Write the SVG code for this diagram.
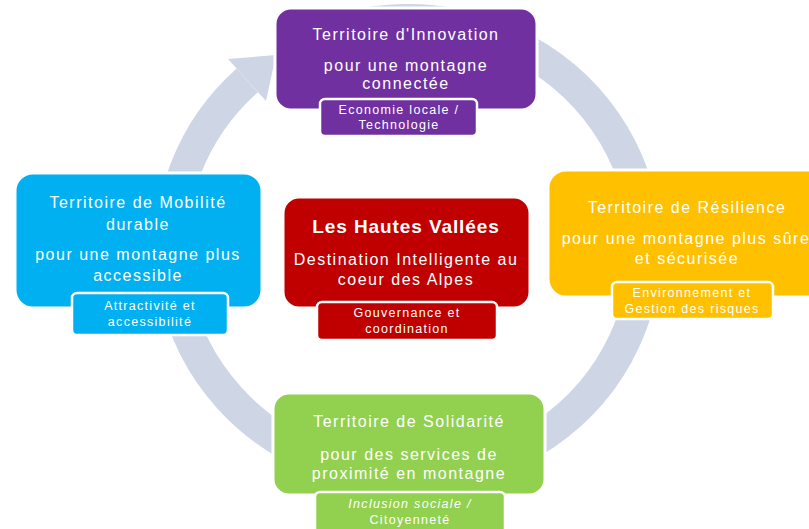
<svg xmlns="http://www.w3.org/2000/svg" width="809" height="529" viewBox="0 0 809 529">
<style>
.box{stroke:#fff;stroke-width:3}
.lbl{stroke:#fff;stroke-width:2.5}
.t{font-family:"Liberation Sans",Arial,sans-serif;font-size:16px;letter-spacing:1.5px;fill:#fff;text-anchor:middle}
.s{font-family:"Liberation Sans",Arial,sans-serif;font-size:12.5px;letter-spacing:1.3px;fill:#fff;text-anchor:middle}
.b{font-family:"Liberation Sans",Arial,sans-serif;font-size:19px;letter-spacing:0.9px;font-weight:bold;fill:#fff;text-anchor:middle}
.purple{fill:#7030A0}.cyan{fill:#00B0F0}.yellow{fill:#FFC000}.green{fill:#92D050}.red{fill:#C00000}
</style>
<rect width="809" height="529" fill="#fff"/>
<g id="connectors">
<path d="M296.7,46.7 A237,228 0 1 1 247.3,80.4" fill="none" stroke="#CED6E6" stroke-width="32"/>
<polygon points="228,59 266,101 276,55" fill="#CED6E6"/>
</g>
<g id="node-innovation">
<rect class="box purple" x="275" y="8" width="262" height="102" rx="16"/>
<text class="t" x="406" y="40">Territoire d'Innovation</text>
<text class="t" x="406" y="71">pour une montagne</text>
<text class="t" x="406" y="89">connectée</text>
<rect class="lbl purple" x="320" y="99" width="157" height="37" rx="5"/>
<text class="s" x="399" y="114">Economie locale /</text>
<text class="s" x="399" y="129">Technologie</text>
</g>
<g id="node-mobilite">
<rect class="box cyan" x="15" y="173" width="247" height="135" rx="18"/>
<text class="t" x="138" y="208">Territoire de Mobilité</text>
<text class="t" x="138" y="230">durable</text>
<text class="t" x="138" y="260">pour une montagne plus</text>
<text class="t" x="138" y="281">accessible</text>
<rect class="lbl cyan" x="72" y="293" width="156" height="42" rx="5"/>
<text class="s" x="150" y="310">Attractivité et</text>
<text class="s" x="150" y="326">accessibilité</text>
</g>
<g id="node-resilience">
<rect class="box yellow" x="548" y="170" width="285" height="127" rx="18"/>
<text class="t" x="687" y="213">Territoire de Résilience</text>
<text class="t" x="686" y="244" letter-spacing="1.2">pour une montagne plus sûre</text>
<text class="t" x="687" y="264">et sécurisée</text>
<rect class="lbl yellow" x="612" y="282" width="161" height="37" rx="5"/>
<text class="s" x="692" y="297">Environnement et</text>
<text class="s" x="692" y="313" letter-spacing="1.1">Gestion des risques</text>
</g>
<g id="node-solidarite">
<rect class="box green" x="273" y="393" width="272" height="102" rx="16"/>
<text class="t" x="409" y="427">Territoire de Solidarité</text>
<text class="t" x="409" y="460">pour des services de</text>
<text class="t" x="409" y="479">proximité en montagne</text>
<rect class="lbl green" x="315" y="492" width="190" height="45" rx="5"/>
<text class="s" x="410" y="508" font-style="italic">Inclusion sociale /</text>
<text class="s" x="410" y="524">Citoyenneté</text>
</g>
<g id="node-hautes-vallees">
<rect class="box red" x="283" y="197" width="247" height="111" rx="16"/>
<text class="b" x="406" y="233">Les Hautes Vallées</text>
<text class="t" x="406" y="265">Destination Intelligente au</text>
<text class="t" x="406" y="285">coeur des Alpes</text>
<rect class="lbl red" x="317" y="302" width="180" height="38" rx="5"/>
<text class="s" x="407" y="317">Gouvernance et</text>
<text class="s" x="407" y="333">coordination</text>
</g>
</svg>
